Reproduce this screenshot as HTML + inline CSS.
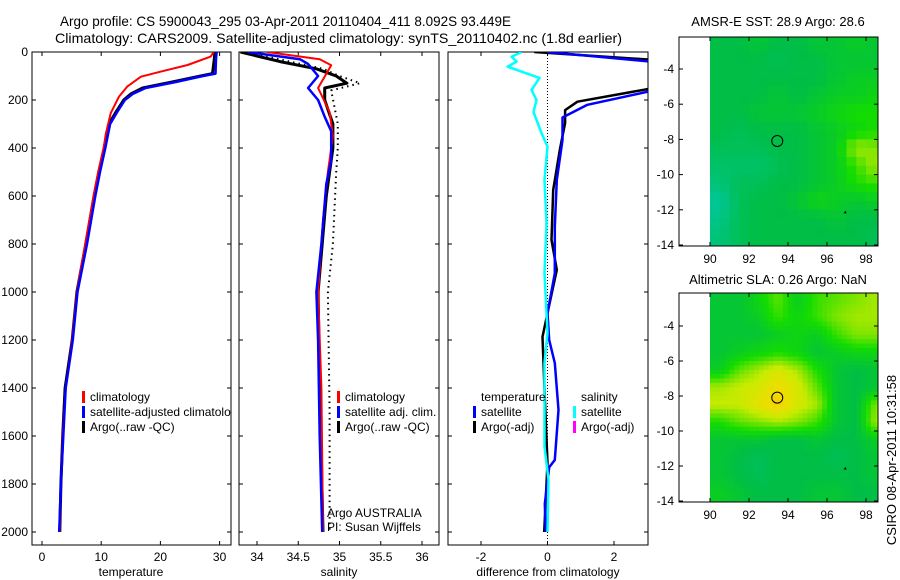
<!DOCTYPE html>
<html><head><meta charset="utf-8"><style>
body{margin:0;background:#fff;}
svg{display:block;font-family:"Liberation Sans",sans-serif;font-size:12px;}
</style></head><body>
<svg id="chart" width="900" height="580" viewBox="0 0 900 580">
<defs>
<clipPath id="c1"><rect x="32" y="52" width="199" height="493"/></clipPath>
<clipPath id="c2"><rect x="239" y="52" width="200" height="493"/></clipPath>
<clipPath id="c3"><rect x="448" y="52" width="200" height="493"/></clipPath>
<clipPath id="cm1"><rect x="679" y="37" width="199" height="209"/></clipPath>
<clipPath id="cm2"><rect x="679" y="293" width="199" height="209"/></clipPath>
</defs>
<text x="60" y="26" font-size="14" textLength="451" lengthAdjust="spacingAndGlyphs">Argo profile: CS 5900043_295 03-Apr-2011 20110404_411 8.092S 93.449E</text>
<text x="55" y="43" font-size="14" textLength="567" lengthAdjust="spacingAndGlyphs">Climatology: CARS2009. Satellite-adjusted climatology: synTS_20110402.nc (1.8d earlier)</text>
<g id="g"></g>
</svg>
<script>
// ---------- DATA ----------
const depthTicks=[0,200,400,600,800,1000,1200,1400,1600,1800,2000];
const tempTicks=[0,10,20,30];
const salTicks=[34,34.5,35,35.5,36];
const diffTicks=[-2,0,2];
// temperature profiles
const tClimDepth=[0,19,54,82,103,144,186,255,339,400,500,600,800,1000,1200,1400,1600,1800,2000];
const tClimVal=[29,28.5,24.6,20,16.7,14.4,13,11.6,10.8,10.4,9.5,8.7,7.3,5.9,5.1,4.0,3.5,3.2,3.0];
const tArgoDepth=[0,30,90,100,125,150,175,200,250,300,400,500,600,800,1000,1200,1400,1600,1800,2000];
const tArgoVal=[29.2,29.1,28.8,26.8,22,17,15,13.8,12.5,11.3,10.5,9.6,8.8,7.4,5.9,5.1,3.9,3.5,3.2,3.0];
const tSatVal=[29.5,29.4,29.3,27.2,22.6,17.5,15.3,14.0,12.7,11.5,10.7,9.8,9.0,7.6,6.0,5.2,4.0,3.6,3.2,2.9];
// salinity profiles
const sClimDepth=[0,30,55,150,250,350,500,700,1000,1400,2000];
const sClimVal=[34.12,34.76,34.9,34.74,34.88,34.92,34.86,34.8,34.74,34.78,34.8];
const sSatDepth=[0,30,50,100,150,200,270,330,450,550,800,1000,1200,1600,2000];
const sSatVal=[33.89,34.52,34.62,34.74,34.62,34.74,34.82,34.9,34.9,34.84,34.78,34.72,34.74,34.76,34.79];
const sArgoDepth=[0,40,70,100,130,150,200,300,400,600,1000,1400,2000];
const sArgoVal=[33.8,34.28,34.72,34.96,35.09,34.82,34.82,34.92,34.92,34.84,34.74,34.76,34.8];
const sDotDepth=[0,40,70,100,130,160,300,400,500,800,1000,1500,2000];
const sDotVal=[33.85,34.4,34.8,35.0,35.25,34.9,34.98,34.98,34.96,34.92,34.86,34.88,34.88];
// differences
const dTArgoDepth=[0,33,60,140,150,207,242,296,408,575,783,908,1088,1187,1437,1712,2000];
const dTArgoVal=[-0.4,3.2,6,6,3.2,0.9,0.53,0.53,0.37,0.17,0.12,0.28,0,-0.15,-0.08,0,-0.1];
const dTSatDepth=[0,40,60,150,166,220,273,366,533,728,922,1088,1200,1296,1491,1700,1730,1883,2000];
const dTSatVal=[0,3.1,6,6,3.0,1.2,0.45,0.45,0.28,0.22,0.22,0,0.05,0.22,0.33,0.22,0.05,-0.08,-0.05];
const dSSatDepth=[0,20,40,61,82,108,158,200,250,338,394,533,713,922,1171,1296,1645,1783,2000];
const dSSatVal=[-0.78,-1.08,-0.93,-1.2,-0.78,-0.24,-0.48,-0.33,-0.42,-0.18,0,-0.09,-0.03,-0.09,0,-0.09,-0.09,0.03,0];
// maps
const lonTicks=[90,92,94,96,98];
const latTicks=[-4,-6,-8,-10,-12,-14];
const cellLon=[90,91,92,93,94,95,96,97,98];
const cellLat=[-2,-3,-4,-5,-6,-7,-8,-9,-10,-11,-12,-13];
const sstGrid=[
[.3,.3,.35,.3,.3,.35,.35,.4,.35],
[.3,.3,.3,.25,.3,.3,.35,.35,.35],
[.3,.3,.3,.3,.3,.3,.35,.4,.4],
[.3,.3,.3,.35,.3,.35,.4,.4,.45],
[.3,.3,.35,.35,.35,.4,.45,.5,.5],
[.3,.25,.3,.3,.3,.35,.4,.45,.5],
[.25,.25,.25,.3,.3,.35,.4,.7,.65],
[.2,.2,.2,.25,.3,.35,.4,.55,.7],
[.15,.25,.25,.3,.3,.35,.4,.5,.55],
[.05,.25,.3,.3,.35,.45,.4,.35,.4],
[.1,.25,.3,.3,.3,.3,.35,.3,.3],
[.15,.25,.3,.3,.3,.3,.3,.3,.25]];
const slaGrid=[
[.35,.35,.45,.6,.4,.55,.6,.65,.7],
[.35,.35,.4,.55,.45,.55,.65,.7,.7],
[.35,.35,.35,.4,.45,.4,.55,.65,.65],
[.35,.4,.45,.5,.45,.35,.4,.45,.45],
[.4,.6,.7,.8,.7,.5,.35,.3,.35],
[.7,.75,.8,.9,.8,.6,.35,.3,.35],
[.75,.75,.85,.95,.8,.7,.35,.3,.65],
[.5,.6,.65,.7,.65,.55,.35,.3,.7],
[.35,.35,.35,.3,.3,.35,.3,.3,.4],
[.35,.3,.25,.3,.3,.3,.25,.3,.35],
[.35,.3,.25,.3,.3,.3,.3,.3,.35],
[.4,.35,.3,.3,.3,.35,.35,.3,.3]];
const floatLon=93.449, floatLat=-8.092;

// ---------- DRAW ----------
const NS='http://www.w3.org/2000/svg';
const G=document.getElementById('g');
function el(tag,attrs,parent){const e=document.createElementNS(NS,tag);for(const k in attrs)e.setAttribute(k,attrs[k]);(parent||G).appendChild(e);return e;}
const yD=d=>52+d*0.24;
const xT=v=>42+v*5.92;
const xS=v=>257+(v-34)*82.5;
const xDf=v=>547.5+v*33.25;

function frame(x0,x1,y0,y1,name){
  const r=el('rect',{x:x0,y:y0,width:x1-x0,height:y1-y0,fill:'none',stroke:'#000','stroke-width':1});
  
  
}
function line(xs,ds,xf,col,w,clip,name,dash){
  const pts=xs.map((v,i)=>xf(v).toFixed(1)+','+yD(ds[i]).toFixed(1)).join(' ');
  const p=el('polyline',{points:pts,fill:'none',stroke:col,'stroke-width':w,'clip-path':'url(#'+clip+')','stroke-linejoin':'round'});
  if(dash)p.setAttribute('stroke-dasharray',dash);
  
  
}
function txt(x,y,s,anchor,name,extra){
  const t=el('text',Object.assign({x:x,y:y,'text-anchor':anchor||'start'},extra||{}));
  t.textContent=s;
  
  
  return t;
}
function yTicks(x0,x1,withLabels){
  depthTicks.forEach(d=>{
    el('line',{x1:x0,y1:yD(d),x2:x0+4,y2:yD(d),stroke:'#000'});
    el('line',{x1:x1,y1:yD(d),x2:x1-4,y2:yD(d),stroke:'#000'});
    if(withLabels)txt(x0-4,yD(d)+4,String(d),'end','depth-tick-label');
  });
}
function xTicks(vals,xf){
  vals.forEach(v=>{
    const x=xf(v);
    el('line',{x1:x,y1:545,x2:x,y2:541,stroke:'#000'});
    el('line',{x1:x,y1:52,x2:x,y2:56,stroke:'#000'});
    txt(x,561,String(v),'middle','x-tick-label');
  });
}
function legendBar(x,y,col,name){
  const b=el('rect',{x:x,y:y-6,width:3,height:12,fill:col});
  
  
}

// Panel 1
frame(32,231,52,545,'temperature-axes');
yTicks(32,231,true);
xTicks(tempTicks,xT);
txt(131,576,'temperature','middle','x-axis-title-temperature');
line(tArgoVal,tArgoDepth,xT,'#000',3,'c1','temp-argo-line');
line(tClimVal,tClimDepth,xT,'#f00',2,'c1','temp-climatology-line');
line(tSatVal,tArgoDepth,xT,'#00f',2.5,'c1','temp-satellite-line');
legendBar(82,397,'#f00','legend-climatology-swatch');
txt(90,401,'climatology','start','legend-climatology');
legendBar(82,412,'#00f','legend-satellite-swatch');
const sat=txt(90,416,'satellite-adjusted climatology','start','legend-satellite-adjusted');
sat.setAttribute('clip-path','url(#c1)');
legendBar(82,427,'#000','legend-argo-swatch');
txt(90,431,'Argo(..raw -QC)','start','legend-argo');

// Panel 2
frame(239,439,52,545,'salinity-axes');
yTicks(239,439,false);
xTicks(salTicks,xS);
txt(339,576,'salinity','middle','x-axis-title-salinity');
line(sDotVal,sDotDepth,xS,'#000',2,'c2','sal-argo-dotted-line','1.5,4');
line(sArgoVal,sArgoDepth,xS,'#000',3,'c2','sal-argo-line');
line(sClimVal,sClimDepth,xS,'#f00',2,'c2','sal-climatology-line');
line(sSatVal,sSatDepth,xS,'#00f',2.5,'c2','sal-satellite-line');
legendBar(337,397,'#f00','legend2-climatology-swatch');
txt(345,401,'climatology','start','legend2-climatology');
legendBar(337,412,'#00f','legend2-satellite-swatch');
txt(345,416,'satellite adj. clim.','start','legend2-satellite');
legendBar(337,427,'#000','legend2-argo-swatch');
txt(345,431,'Argo(..raw -QC)','start','legend2-argo');
txt(327,517,'Argo AUSTRALIA','start','float-owner-label');
txt(327,531,'PI: Susan Wijffels','start','pi-label');

// Panel 3
frame(448,648,52,545,'difference-axes');
yTicks(448,648,false);
xTicks(diffTicks,xDf);
txt(548,576,'difference from climatology','middle','x-axis-title-difference');
el('line',{x1:xDf(0),y1:52,x2:xDf(0),y2:545,stroke:'#000','stroke-dasharray':'1,2'});
line(dTArgoVal,dTArgoDepth,xDf,'#000',2.5,'c3','diff-temp-argo-line');
line(dTSatVal,dTSatDepth,xDf,'#00f',2.5,'c3','diff-temp-satellite-line');
line(dSSatVal,dSSatDepth,xDf,'#0ff',2.5,'c3','diff-sal-satellite-line');
txt(481,401,'temperature','start','legend3-temperature-header');
legendBar(473,412,'#00f','legend3-temp-satellite-swatch');
txt(481,416,'satellite','start','legend3-temp-satellite');
legendBar(473,427,'#000','legend3-temp-argo-swatch');
txt(481,431,'Argo(-adj)','start','legend3-temp-argo');
txt(581,401,'salinity','start','legend3-salinity-header');
legendBar(573,412,'#0ff','legend3-sal-satellite-swatch');
txt(581,416,'satellite','start','legend3-sal-satellite');
legendBar(573,427,'#f0f','legend3-sal-argo-swatch');
txt(581,431,'Argo(-adj)','start','legend3-sal-argo');

// colormap
function cmap(v){
  const stops=[[0,[0,200,170]],[0.3,[0,190,70]],[0.5,[20,220,0]],[0.75,[200,235,0]],[0.9,[240,220,0]],[1,[245,180,0]]];
  for(let i=1;i<stops.length;i++){
    if(v<=stops[i][0]){const a=stops[i-1],b=stops[i];const t=(v-a[0])/(b[0]-a[0]);
      const c=a[1].map((q,k)=>Math.round(q+(b[1][k]-q)*t));return 'rgb('+c.join(',')+')';}
  }
  return 'rgb(245,180,0)';
}
function sampleGrid(grid,fi,fj){
  const ni=grid.length,nj=grid[0].length;
  fi=Math.max(0,Math.min(ni-1,fi));fj=Math.max(0,Math.min(nj-1,fj));
  const i0=Math.floor(fi),j0=Math.floor(fj),i1=Math.min(ni-1,i0+1),j1=Math.min(nj-1,j0+1);
  const a=fi-i0,b=fj-j0;
  return grid[i0][j0]*(1-a)*(1-b)+grid[i0][j1]*(1-a)*b+grid[i1][j0]*a*(1-b)+grid[i1][j1]*a*b;
}
function drawMap(top,bottom,ppLat,lat4y,grid,clip,name,title,titleY,sub){
  const xL=lon=>710+(lon-90)*19.5;
  const yL=lat=>lat4y+(-4-lat)*ppLat;
  grid.forEach((row,i)=>row.forEach((v,j)=>{
    for(let si=0;si<sub;si++)for(let sj=0;sj<sub;sj++){
      const fi=i+(si+0.5)/sub-0.5, fj=j+(sj+0.5)/sub-0.5;
      const val=sub>1?sampleGrid(grid,fi,fj):v;
      const r=el('rect',{x:(xL(cellLon[j]+sj/sub)).toFixed(1),y:(yL(cellLat[i]-si/sub)).toFixed(1),width:(19.5/sub+0.5).toFixed(2),height:(ppLat/sub+0.5).toFixed(2),fill:cmap(val),'clip-path':'url(#'+clip+')'});
      
      
    }
  }));
  frame(679,878,top,bottom,name+'-axes');
  lonTicks.forEach(l=>{const x=xL(l);
    el('line',{x1:x,y1:bottom,x2:x,y2:bottom-4,stroke:'#000'});
    el('line',{x1:x,y1:top,x2:x,y2:top+4,stroke:'#000'});
    txt(x,bottom+17,String(l),'middle',name+'-lon-label');});
  latTicks.forEach(l=>{const y=yL(l);
    el('line',{x1:679,y1:y,x2:683,y2:y,stroke:'#000'});
    el('line',{x1:878,y1:y,x2:874,y2:y,stroke:'#000'});
    txt(674,y+4,String(l),'end',name+'-lat-label');});
  const c=el('circle',{cx:xL(floatLon),cy:yL(floatLat),r:5.5,fill:'none',stroke:'#000','stroke-width':1});
  
  
  el('polygon',{points:[xL(96.85),yL(-12.2),xL(96.95),yL(-12.05),xL(97.0),yL(-12.2)].map(String).join(' '),fill:'#000'});
  txt(778,titleY,title,'middle',name+'-title',{'font-size':'13'});
}
drawMap(37,246,17.6,69,sstGrid,'cm1','sst-map','AMSR-E SST: 28.9 Argo: 28.6',26,2);
drawMap(293,502,17.5,326,slaGrid,'cm2','sla-map','Altimetric SLA: 0.26 Argo: NaN',284,4);
txt(0,0,'CSIRO 08-Apr-2011 10:31:58','middle','timestamp-label',{transform:'translate(896,460) rotate(-90)','font-size':'13'});
</script>
</body></html>
